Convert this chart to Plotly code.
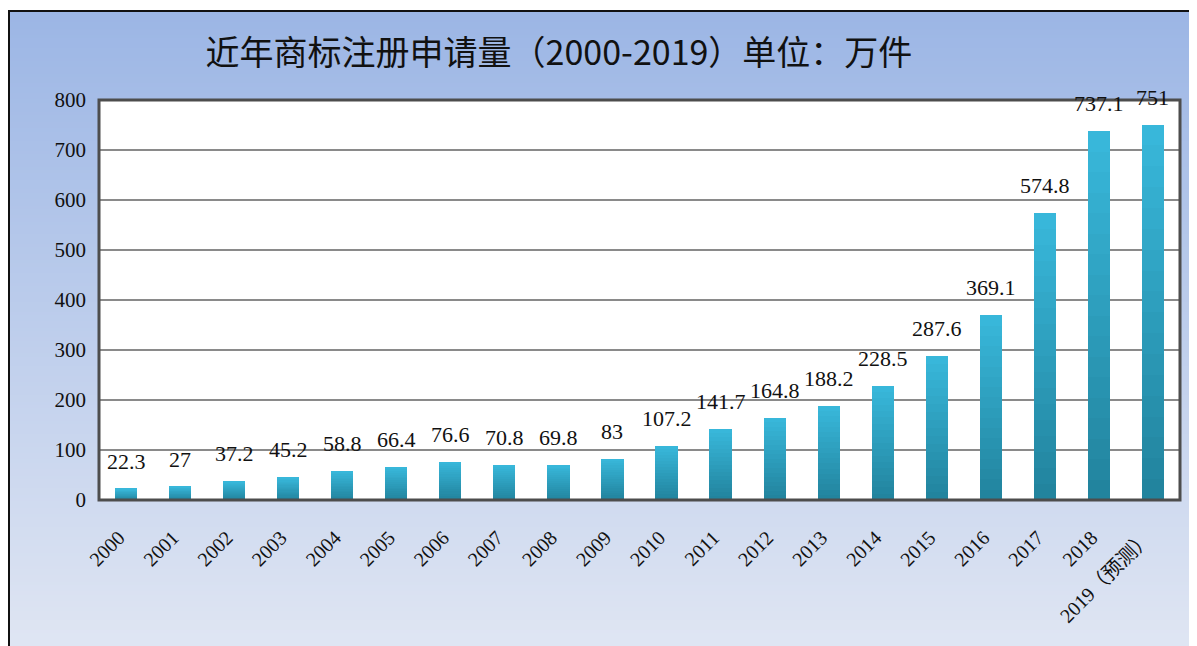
import base64, struct, zlib
import plotly.graph_objects as go

categories = ["2000", "2001", "2002", "2003", "2004", "2005", "2006", "2007", "2008", "2009",
              "2010", "2011", "2012", "2013", "2014", "2015", "2016", "2017", "2018", "2019（预测）"]
values = [22.3, 27, 37.2, 45.2, 58.8, 66.4, 76.6, 70.8, 69.8, 83,
          107.2, 141.7, 164.8, 188.2, 228.5, 287.6, 369.1, 574.8, 737.1, 751]
value_labels = ["22.3", "27", "37.2", "45.2", "58.8", "66.4", "76.6", "70.8", "69.8", "83",
                "107.2", "141.7", "164.8", "188.2", "228.5", "287.6", "369.1", "574.8", "737.1", "751"]
title_text = "近年商标注册申请量（2000-2019）单位：万件"

# page body has an 8px margin, so figure pixel = screen pixel - 8
OFF = 8
W, H = 1197 - OFF, 646 - OFF
L, R, T, B = 99 - OFF, 1180 - OFF, 100 - OFF, 500 - OFF  # plot area in figure pixels


def px_x(p):
    return (p - L) / (R - L)


def px_y(p):
    return (B - p) / (B - T)


def lerp(c1, c2, t):
    return tuple(int(round(a + (b - a) * t)) for a, b in zip(c1, c2))


def gradient_png(h, top, bottom):
    raw = b""
    for i in range(h):
        c = lerp(top, bottom, i / (h - 1))
        raw += b"\x00" + bytes(c)
    def chunk(tag, data):
        return struct.pack(">I", len(data)) + tag + data + struct.pack(">I", zlib.crc32(tag + data) & 0xffffffff)
    png = b"\x89PNG\r\n\x1a\n" + chunk(b"IHDR", struct.pack(">IIBBBBB", 1, h, 8, 2, 0, 0, 0))
    png += chunk(b"IDAT", zlib.compress(raw)) + chunk(b"IEND", b"")
    return "data:image/png;base64," + base64.b64encode(png).decode()


bg_img = gradient_png(200, (156, 182, 229), (224, 230, 243))

fig = go.Figure()

# Bars drawn as stacked slices to reproduce the vertical gradient
N = 18
top_c = (56, 183, 218)
bot_c = (34, 132, 158)
for k in range(N):
    c = lerp(bot_c, top_c, k / (N - 1))
    fig.add_trace(go.Bar(
        x=categories, y=[v / N for v in values],
        marker=dict(color="rgb(%d,%d,%d)" % c, line=dict(width=0)),
        width=0.41, showlegend=False, hoverinfo="skip",
    ))

annotations = []
for i, (v, lab) in enumerate(zip(values, value_labels)):
    annotations.append(dict(
        x=i, y=v, xref="x", yref="y", text=lab, showarrow=False,
        yanchor="bottom", yshift=13,
        font=dict(family="Liberation Serif, Noto Sans CJK SC", size=22, color="#111"),
    ))

fig.update_layout(
    width=W, height=H,
    margin=dict(l=L, r=W - R, t=T, b=H - B),
    barmode="stack",
    paper_bgcolor="white", plot_bgcolor="white",
    title=dict(text=title_text, x=(559 - OFF) / W, xanchor="center", y=1 - (53 - OFF) / H, yanchor="middle",
               xref="container", yref="container",
               font=dict(family="Noto Sans CJK SC", size=34, color="#111")),
    annotations=annotations,
    images=[dict(source=bg_img, xref="paper", yref="paper",
                 x=px_x(1), y=px_y(3), sizex=(W + 5) / (R - L), sizey=(H + 5) / (B - T),
                 xanchor="left", yanchor="top", sizing="stretch", layer="below")],
    shapes=[
        dict(type="rect", xref="paper", yref="paper", x0=0, x1=1, y0=0, y1=1,
             fillcolor="white", line=dict(width=0), layer="below"),
        dict(type="rect", xref="paper", yref="paper", x0=px_x(1), x1=px_x(W + 5),
             y0=px_y(H + 5), y1=px_y(3), line=dict(color="#111", width=2), layer="above"),
        dict(type="rect", xref="paper", yref="paper", x0=0, x1=1, y0=0, y1=1,
             line=dict(color="#4d4d4d", width=3), layer="above"),
    ],
    font=dict(family="Liberation Serif, Noto Sans CJK SC", color="#111"),
)

fig.update_yaxes(range=[0, 800], dtick=100, showgrid=True, gridcolor="#8a8a8a", gridwidth=1.5,
                 zeroline=False, showline=False, ticks="",
                 tickfont=dict(family="Liberation Serif", size=21, color="#111"),
                 ticklabelstandoff=12)
fig.update_xaxes(type="category", range=[-0.5, len(categories) - 0.5], tickangle=-45,
                 tickmode="array", tickvals=categories,
                 ticktext=[c + "\u00a0\u00a0" for c in categories],
                 showline=False, ticks="", showgrid=False,
                 tickfont=dict(family="Liberation Serif, Noto Sans CJK SC", size=20, color="#111"),
                 ticklabelstandoff=14)

fig.write_html("out.html")
